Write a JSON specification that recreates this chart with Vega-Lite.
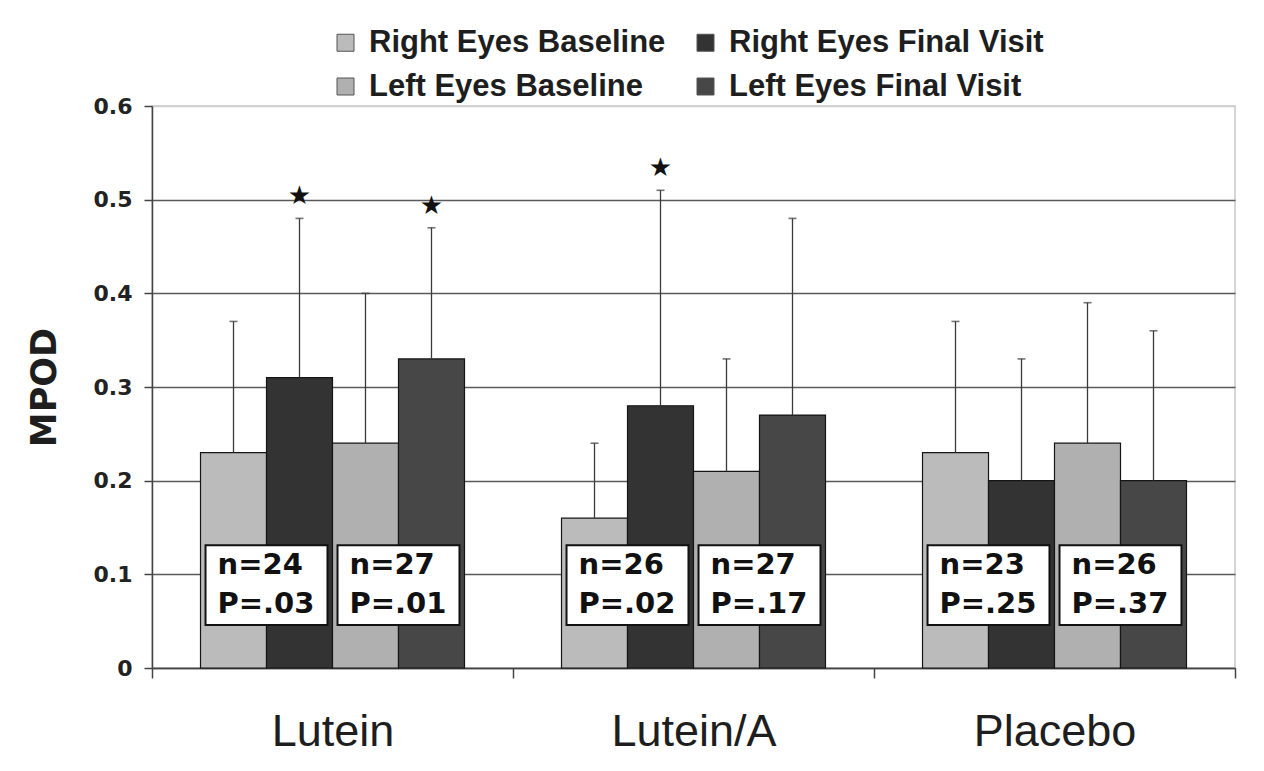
{
  "$schema": "https://vega.github.io/schema/vega-lite/v6.json",
  "width": 1083,
  "height": 562,
  "autosize": {"type": "none"},
  "padding": {"left": 152, "top": 106, "right": 29, "bottom": 103},
  "background": "white",
  "config": {
    "view": {"stroke": "#c8c8c8", "strokeWidth": 1.5}
  },
  "datasets": {
    "bars": [
      {"group": "Lutein", "series": "Right Eyes Baseline", "value": 0.23, "upper": 0.37, "sig": false},
      {"group": "Lutein", "series": "Right Eyes Final Visit", "value": 0.31, "upper": 0.48, "sig": true},
      {"group": "Lutein", "series": "Left Eyes Baseline", "value": 0.24, "upper": 0.40, "sig": false},
      {"group": "Lutein", "series": "Left Eyes Final Visit", "value": 0.33, "upper": 0.47, "sig": true},
      {"group": "Lutein/A", "series": "Right Eyes Baseline", "value": 0.16, "upper": 0.24, "sig": false},
      {"group": "Lutein/A", "series": "Right Eyes Final Visit", "value": 0.28, "upper": 0.51, "sig": true},
      {"group": "Lutein/A", "series": "Left Eyes Baseline", "value": 0.21, "upper": 0.33, "sig": false},
      {"group": "Lutein/A", "series": "Left Eyes Final Visit", "value": 0.27, "upper": 0.48, "sig": false},
      {"group": "Placebo", "series": "Right Eyes Baseline", "value": 0.23, "upper": 0.37, "sig": false},
      {"group": "Placebo", "series": "Right Eyes Final Visit", "value": 0.20, "upper": 0.33, "sig": false},
      {"group": "Placebo", "series": "Left Eyes Baseline", "value": 0.24, "upper": 0.39, "sig": false},
      {"group": "Placebo", "series": "Left Eyes Final Visit", "value": 0.20, "upper": 0.36, "sig": false}
    ],
    "labels": [
      {"group": "Lutein", "eye": "Right", "n": "n=24", "p": "P=.03"},
      {"group": "Lutein", "eye": "Left", "n": "n=27", "p": "P=.01"},
      {"group": "Lutein/A", "eye": "Right", "n": "n=26", "p": "P=.02"},
      {"group": "Lutein/A", "eye": "Left", "n": "n=27", "p": "P=.17"},
      {"group": "Placebo", "eye": "Right", "n": "n=23", "p": "P=.25"},
      {"group": "Placebo", "eye": "Left", "n": "n=26", "p": "P=.37"}
    ]
  },
  "encoding": {
    "x": {
      "field": "group",
      "type": "nominal",
      "sort": ["Lutein", "Lutein/A", "Placebo"],
      "scale": {"paddingInner": 0, "paddingOuter": 0},
      "axis": {
        "title": null,
        "labelAngle": 0,
        "labelFont": "Liberation Sans",
        "labelFontSize": 45,
        "labelColor": "#1e1e1e",
        "labelPadding": 31,
        "tickBand": "extent",
        "tickSize": 10,
        "tickColor": "#444",
        "tickWidth": 1.5,
        "domainColor": "#444",
        "domainWidth": 1.5,
        "grid": false
      }
    }
  },
  "layer": [
    {
      "data": {"name": "bars"},
      "encoding": {
        "xOffset": {
          "field": "series",
          "type": "nominal",
          "sort": ["Right Eyes Baseline", "Right Eyes Final Visit", "Left Eyes Baseline", "Left Eyes Final Visit"],
          "scale": {"paddingInner": 0, "paddingOuter": 0.735}
        }
      },
      "layer": [
        {
          "mark": {"type": "bar", "stroke": "#151515", "strokeWidth": 1.2},
          "encoding": {
            "y": {
              "field": "value",
              "type": "quantitative",
              "scale": {"domain": [0, 0.6], "nice": false},
              "axis": {
                "values": [0, 0.1, 0.2, 0.3, 0.4, 0.5, 0.6],
                "format": ".1~f",
                "title": "MPOD",
                "titleFont": "DejaVu Sans",
                "titleFontSize": 35,
                "titleFontWeight": "bold",
                "titleColor": "#1e1e1e",
                "titlePadding": 31,
                "labelFont": "DejaVu Sans",
                "labelFontWeight": "bold",
                "labelFontSize": 22,
                "labelColor": "#222222",
                "labelPadding": 12,
                "tickSize": 8,
                "tickColor": "#444",
                "tickWidth": 1.5,
                "domainColor": "#444",
                "domainWidth": 1.5,
                "grid": true,
                "gridColor": {"condition": {"test": "datum.value >= 0.6", "value": "#d0d0d0"}, "value": "#5a5a5a"},
                "gridWidth": 1.5
              }
            },
            "color": {
              "field": "series",
              "type": "nominal",
              "scale": {
                "domain": ["Right Eyes Baseline", "Left Eyes Baseline", "Right Eyes Final Visit", "Left Eyes Final Visit"],
                "range": ["#bbbbbb", "#b0b0b0", "#333333", "#474747"]
              },
              "legend": {
                "orient": "none",
                "legendX": 178,
                "legendY": -79,
                "columns": 2,
                "title": null,
                "symbolType": "square",
                "symbolSize": 289,
                "symbolStrokeColor": "#555",
                "symbolStrokeWidth": 1,
                "symbolOpacity": 1,
                "labelFont": "Liberation Sans",
                "labelFontWeight": "bold",
                "labelFontSize": 31,
                "labelColor": "#1e1e1e",
                "labelOffset": 8,
                "labelLimit": 0,
                "columnPadding": 24,
                "rowPadding": 12
              }
            }
          }
        },
        {
          "mark": {"type": "rule", "color": "#3a3a3a", "strokeWidth": 1.3},
          "encoding": {
            "y": {"field": "value", "type": "quantitative"},
            "y2": {"field": "upper"}
          }
        },
        {
          "mark": {"type": "tick", "orient": "horizontal", "size": 8, "thickness": 1.6, "color": "#3a3a3a"},
          "encoding": {
            "y": {"field": "upper", "type": "quantitative"}
          }
        },
        {
          "transform": [{"filter": "datum.sig"}],
          "mark": {"type": "text", "text": "★", "font": "DejaVu Sans", "fontSize": 26, "color": "#111", "baseline": "middle", "dy": -22},
          "encoding": {
            "y": {"field": "upper", "type": "quantitative"}
          }
        }
      ]
    },
    {
      "data": {"name": "labels"},
      "encoding": {
        "xOffset": {
          "field": "eye",
          "type": "nominal",
          "sort": ["Right", "Left"],
          "scale": {"paddingInner": 0.076, "paddingOuter": 0.4055}
        }
      },
      "layer": [
        {
          "mark": {"type": "rect", "fill": "white", "stroke": "#111", "strokeWidth": 2},
          "encoding": {
            "y": {"datum": 0.131, "type": "quantitative"},
            "y2": {"datum": 0.046}
          }
        },
        {
          "mark": {"type": "text", "font": "DejaVu Sans", "fontWeight": "bold", "fontSize": 29, "color": "#111", "align": "left", "baseline": "middle", "dx": -49},
          "encoding": {
            "y": {"datum": 0.11, "type": "quantitative"},
            "text": {"field": "n"}
          }
        },
        {
          "mark": {"type": "text", "font": "DejaVu Sans", "fontWeight": "bold", "fontSize": 29, "color": "#111", "align": "left", "baseline": "middle", "dx": -49},
          "encoding": {
            "y": {"datum": 0.068, "type": "quantitative"},
            "text": {"field": "p"}
          }
        }
      ]
    }
  ],
  "resolve": {"scale": {"xOffset": "independent"}}
}
